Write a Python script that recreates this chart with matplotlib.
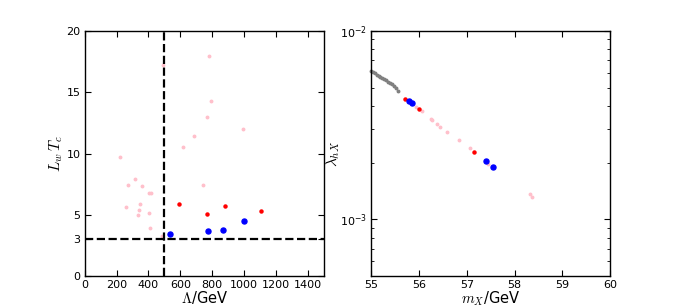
import matplotlib
matplotlib.use('Agg')
import matplotlib.pyplot as plt

# left panel: Lambda [GeV] vs L_w T_c
lam_pink = [224, 272, 318, 362, 406, 413, 262, 346, 339, 333, 406, 411, 484, 492,
            779, 794, 769, 995, 689, 614, 742]
lwtc_pink = [9.69, 7.46, 7.90, 7.38, 6.81, 6.76, 5.62, 5.86, 5.40, 5.02, 5.13, 3.96, 3.31, 17.18,
             17.91, 14.25, 12.97, 11.97, 11.45, 10.56, 7.41]
lam_red = [589, 769, 882, 1106]
lwtc_red = [5.89, 5.10, 5.70, 5.35]
lam_blue = [534, 771, 869, 999]
lwtc_blue = [3.42, 3.72, 3.77, 4.53]

# right panel: m_X [GeV] vs lambda_hX
mx_grey = [55.00, 55.04, 55.08, 55.12, 55.16, 55.19, 55.23, 55.27, 55.31, 55.35,
           55.39, 55.43, 55.47, 55.51, 55.55]
lhx_grey = [6.13e-3, 6.04e-3, 5.95e-3, 5.86e-3, 5.78e-3, 5.71e-3, 5.62e-3, 5.54e-3, 5.46e-3, 5.38e-3,
            5.30e-3, 5.21e-3, 5.12e-3, 4.95e-3, 4.80e-3]
mx_pink = [55.93, 56.06, 56.25, 56.27, 56.38, 56.44, 56.59, 56.84, 57.06, 57.45, 58.32, 58.37]
lhx_pink = [3.96e-3, 3.76e-3, 3.41e-3, 3.37e-3, 3.21e-3, 3.10e-3, 2.91e-3, 2.64e-3, 2.38e-3,
            1.97e-3, 1.36e-3, 1.32e-3]
mx_red = [55.71, 56.00, 57.14]
lhx_red = [4.35e-3, 3.86e-3, 2.29e-3]
mx_blue = [55.78, 55.85, 57.41, 57.55]
lhx_blue = [4.23e-3, 4.14e-3, 2.04e-3, 1.89e-3]

fig, (ax1, ax2) = plt.subplots(1, 2, figsize=(6.78, 3.07), dpi=100)
fig.subplots_adjust(left=0.125, right=0.9, bottom=0.1, top=0.9, wspace=0.2)

ax1.plot(lam_pink, lwtc_pink, 'o', color='pink', mec='pink', ms=1.8)
ax1.plot(lam_red, lwtc_red, 'o', color='red', mec='red', ms=2.2)
ax1.plot(lam_blue, lwtc_blue, 'o', color='blue', mec='blue', ms=3.6)
ax1.axvline(500, color='k', ls='--', lw=1.6)
ax1.axhline(3, color='k', ls='--', lw=1.6)
ax1.set_xlim(0, 1500)
ax1.set_ylim(0, 20)
ax1.set_xticks(range(0, 1500, 200))
ax1.set_yticks([0, 3, 5, 10, 15, 20])
ax1.set_xlabel(r'$\Lambda$/GeV', fontsize=10.5, math_fontfamily='cm', labelpad=-1)
ax1.set_ylabel(r'$L_w\,T_c$', fontsize=11, math_fontfamily='cm', labelpad=1)

ax2.plot(mx_grey, lhx_grey, 'o', color='grey', mec='grey', ms=1.8, clip_on=False)
ax2.plot(mx_pink, lhx_pink, 'o', color='pink', mec='pink', ms=1.8)
ax2.plot(mx_red, lhx_red, 'o', color='red', mec='red', ms=2.2)
ax2.plot(mx_blue, lhx_blue, 'o', color='blue', mec='blue', ms=3.6)
ax2.set_yscale('log')
ax2.set_xlim(55, 60)
ax2.set_ylim(5e-4, 1e-2)
ax2.set_xlabel(r'$m_X$/GeV', fontsize=10.5, math_fontfamily='cm', labelpad=-1)
ax2.set_ylabel(r'$\lambda_{hX}$', fontsize=11, math_fontfamily='cm', labelpad=-1)

for ax in (ax1, ax2):
    ax.tick_params(which='both', direction='in', top=True, right=True, labelsize=8, pad=3)
    ax.tick_params(which='major', length=4)
    ax.tick_params(which='minor', length=2)
    for s in ax.spines.values():
        s.set_linewidth(1.0)

plt.savefig('out.png', dpi=100)
